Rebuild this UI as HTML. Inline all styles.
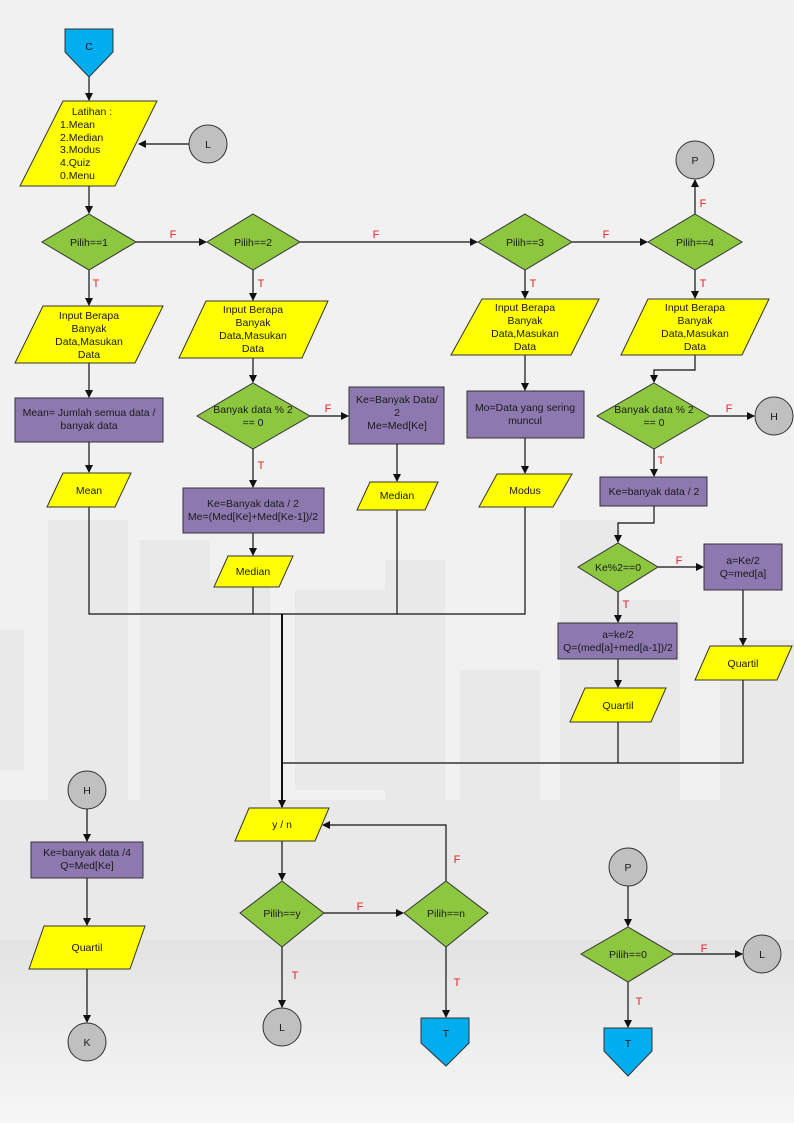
<!DOCTYPE html>
<html><head><meta charset="utf-8"><style>
html,body{margin:0;padding:0;width:794px;height:1123px;overflow:hidden;background:#f1f1f1}
svg{display:block}
text{font-family:"Liberation Sans",Arial,sans-serif;font-size:10.5px;fill:#1a1a1a;text-anchor:middle}
.l{fill:#e8202a;font-size:11px}
</style></head><body>
<svg width="794" height="1123" viewBox="0 0 794 1123" xmlns="http://www.w3.org/2000/svg">
<defs>
<marker id="a" markerWidth="8" markerHeight="8" refX="7" refY="4" orient="auto" markerUnits="userSpaceOnUse"><path d="M0,0 L8,4 L0,8z" fill="#111"/></marker>
<linearGradient id="bg" x1="0" y1="0" x2="0" y2="1"><stop offset="0" stop-color="#e3e3e3"/><stop offset="1" stop-color="#f6f6f6"/></linearGradient>
</defs>
<rect width="794" height="1123" fill="#f1f1f1"/>
<!-- faint buildings -->
<g fill="#e9e9e9">
<rect x="48" y="520" width="80" height="300"/>
<rect x="140" y="540" width="70" height="270"/>
<rect x="210" y="580" width="60" height="230"/>
<rect x="295" y="590" width="90" height="200"/>
<rect x="385" y="560" width="60" height="240"/>
<rect x="460" y="670" width="80" height="150"/>
<rect x="560" y="520" width="60" height="300"/>
<rect x="620" y="600" width="60" height="200"/>
<rect x="0" y="630" width="24" height="140"/>
<rect x="720" y="640" width="74" height="170"/>
<rect x="0" y="800" width="794" height="140"/>
</g>
<rect x="0" y="940" width="794" height="183" fill="url(#bg)"/>
<g stroke="#111" stroke-width="1.2" fill="none">
<!-- top -->
<line x1="89" y1="77" x2="89" y2="100" marker-end="url(#a)"/>
<line x1="189" y1="144" x2="139" y2="144" marker-end="url(#a)"/>
<line x1="89" y1="186" x2="89" y2="213" marker-end="url(#a)"/>
<line x1="136" y1="242" x2="206" y2="242" marker-end="url(#a)"/>
<line x1="300" y1="242" x2="477" y2="242" marker-end="url(#a)"/>
<line x1="572" y1="242" x2="647" y2="242" marker-end="url(#a)"/>
<line x1="695" y1="214" x2="695" y2="180" marker-end="url(#a)"/>
<line x1="89" y1="270" x2="89" y2="305" marker-end="url(#a)"/>
<line x1="253" y1="270" x2="253" y2="300" marker-end="url(#a)"/>
<line x1="525" y1="270" x2="525" y2="298" marker-end="url(#a)"/>
<line x1="695" y1="270" x2="695" y2="298" marker-end="url(#a)"/>
<!-- col1 -->
<line x1="89" y1="363" x2="89" y2="397" marker-end="url(#a)"/>
<line x1="89" y1="442" x2="89" y2="472" marker-end="url(#a)"/>
<!-- col2 -->
<line x1="253" y1="358" x2="253" y2="382" marker-end="url(#a)"/>
<line x1="310" y1="416" x2="348" y2="416" marker-end="url(#a)"/>
<line x1="253" y1="449" x2="253" y2="487" marker-end="url(#a)"/>
<line x1="253" y1="533" x2="253" y2="555" marker-end="url(#a)"/>
<line x1="397" y1="444" x2="397" y2="481" marker-end="url(#a)"/>
<!-- col3 -->
<line x1="525" y1="355" x2="525" y2="390" marker-end="url(#a)"/>
<line x1="525" y1="438" x2="525" y2="473" marker-end="url(#a)"/>
<!-- col4 -->
<polyline points="695,355 695,370 654,370 654,382" marker-end="url(#a)"/>
<line x1="710" y1="416" x2="754" y2="416" marker-end="url(#a)"/>
<line x1="654" y1="449" x2="654" y2="476" marker-end="url(#a)"/>
<polyline points="654,506 654,523 618,523 618,542" marker-end="url(#a)"/>
<line x1="658" y1="567" x2="703" y2="567" marker-end="url(#a)"/>
<line x1="618" y1="592" x2="618" y2="622" marker-end="url(#a)"/>
<line x1="618" y1="659" x2="618" y2="687" marker-end="url(#a)"/>
<line x1="743" y1="590" x2="743" y2="645" marker-end="url(#a)"/>
<!-- merges -->
<polyline points="89,507 89,614 525,614 525,507"/>
<line x1="253" y1="587" x2="253" y2="614"/>
<line x1="397" y1="510" x2="397" y2="614"/>
<polyline points="618,722 618,763 743,763 743,680"/>
<line x1="282" y1="763" x2="618" y2="763"/>
<line x1="282" y1="614" x2="282" y2="807" stroke-width="2" marker-end="url(#a)"/>
<!-- bottom middle -->
<line x1="282" y1="841" x2="282" y2="880" marker-end="url(#a)"/>
<line x1="324" y1="913" x2="403" y2="913" marker-end="url(#a)"/>
<polyline points="446,881 446,825 323,825" marker-end="url(#a)"/>
<line x1="282" y1="947" x2="282" y2="1007" marker-end="url(#a)"/>
<line x1="446" y1="947" x2="446" y2="1017" marker-end="url(#a)"/>
<!-- bottom left -->
<line x1="87" y1="809" x2="87" y2="841" marker-end="url(#a)"/>
<line x1="87" y1="878" x2="87" y2="925" marker-end="url(#a)"/>
<line x1="87" y1="969" x2="87" y2="1022" marker-end="url(#a)"/>
<!-- bottom right -->
<line x1="628" y1="886" x2="628" y2="926" marker-end="url(#a)"/>
<line x1="674" y1="954" x2="742" y2="954" marker-end="url(#a)"/>
<line x1="628" y1="982" x2="628" y2="1027" marker-end="url(#a)"/>
</g>
<g stroke="#333" stroke-width="1">
<!-- offpage C -->
<polygon points="65,29 113,29 113,52 89,77 65,52" fill="#00aeef"/>
<polygon points="421,1018 469,1018 469,1043 446,1066 421,1043" fill="#00aeef"/>
<polygon points="604,1028 652,1028 652,1051 628,1076 604,1051" fill="#00aeef"/>
<!-- circles -->
<circle cx="208" cy="144" r="19" fill="#c0c0c0"/>
<circle cx="695" cy="160" r="19" fill="#c0c0c0"/>
<circle cx="774" cy="416" r="19" fill="#c0c0c0"/>
<ellipse cx="87" cy="790" rx="19" ry="19" fill="#c0c0c0"/>
<ellipse cx="87" cy="1042" rx="19" ry="19" fill="#c0c0c0"/>
<ellipse cx="282" cy="1027" rx="19" ry="19" fill="#c0c0c0"/>
<ellipse cx="628" cy="867" rx="19" ry="19" fill="#c0c0c0"/>
<ellipse cx="762" cy="954" rx="19" ry="19" fill="#c0c0c0"/>
<!-- parallelograms -->
<g fill="#ffff00">
<polygon points="63,101 157,101 115,186 20,186"/>
<polygon points="43,306 163,306 135,363 15,363"/>
<polygon points="206,301 328,301 302,358 179,358"/>
<polygon points="482,299 599,299 571,355 451,355"/>
<polygon points="648,299 769,299 742,355 621,355"/>
<polygon points="63,473 131,473 115,507 47,507"/>
<polygon points="228,556 293,556 279,587 214,587"/>
<polygon points="370,482 438,482 425,510 357,510"/>
<polygon points="497,474 572,474 553,507 479,507"/>
<polygon points="585,688 666,688 651,722 570,722"/>
<polygon points="710,646 792,646 777,680 695,680"/>
<polygon points="249,808 329,808 315,841 235,841"/>
<polygon points="44,926 145,926 130,969 29,969"/>
</g>
<!-- rects -->
<g fill="#8e78b0">
<rect x="15" y="398" width="148" height="44"/>
<rect x="183" y="488" width="141" height="45"/>
<rect x="349" y="387" width="95" height="57"/>
<rect x="467" y="391" width="117" height="47"/>
<rect x="600" y="477" width="107" height="29"/>
<rect x="704" y="544" width="78" height="46"/>
<rect x="558" y="623" width="119" height="36"/>
<rect x="31" y="842" width="112" height="36"/>
</g>
<!-- diamonds -->
<g fill="#8dc63f">
<polygon points="89,214 136,242 89,270 42,242"/>
<polygon points="253,214 300,242 253,270 207,242"/>
<polygon points="525,214 572,242 525,270 478,242"/>
<polygon points="695,214 742,242 695,270 648,242"/>
<polygon points="253,383 310,416 253,449 197,416"/>
<polygon points="654,383 710,416 654,449 597,416"/>
<polygon points="618,543 658,567 618,592 578,567"/>
<polygon points="282,881 324,913 282,947 240,913"/>
<polygon points="446,881 488,913 446,947 404,913"/>
<polygon points="628,927 674,954 628,982 581,954"/>
</g>
</g>
<!-- texts -->
<text x="89" y="50">C</text>
<text x="446" y="1037">T</text>
<text x="628" y="1047">T</text>
<text x="208" y="148">L</text><text x="695" y="164">P</text><text x="774" y="420">H</text>
<text x="87" y="794">H</text><text x="87" y="1046">K</text><text x="282" y="1031">L</text>
<text x="628" y="871">P</text><text x="762" y="958">L</text>
<text x="92" y="115">Latihan :</text>
<g style="text-anchor:start"><text x="60" y="128" style="text-anchor:start">1.Mean</text><text x="60" y="141" style="text-anchor:start">2.Median</text><text x="60" y="153" style="text-anchor:start">3.Modus</text><text x="60" y="166" style="text-anchor:start">4.Quiz</text><text x="60" y="179" style="text-anchor:start">0.Menu</text></g>
<text x="89" y="246">Pilih==1</text><text x="253" y="246">Pilih==2</text><text x="525" y="246">Pilih==3</text><text x="695" y="246">Pilih==4</text>
<text x="89" y="319">Input Berapa</text><text x="89" y="332">Banyak</text><text x="89" y="345">Data,Masukan</text><text x="89" y="358">Data</text>
<text x="253" y="313">Input Berapa</text><text x="253" y="326">Banyak</text><text x="253" y="339">Data,Masukan</text><text x="253" y="352">Data</text>
<text x="525" y="311">Input Berapa</text><text x="525" y="324">Banyak</text><text x="525" y="337">Data,Masukan</text><text x="525" y="350">Data</text>
<text x="695" y="311">Input Berapa</text><text x="695" y="324">Banyak</text><text x="695" y="337">Data,Masukan</text><text x="695" y="350">Data</text>
<text x="89" y="416">Mean= Jumlah semua   data /</text><text x="89" y="429">banyak data</text>
<text x="253" y="413">Banyak data % 2</text><text x="253" y="426">== 0</text>
<text x="654" y="413">Banyak data % 2</text><text x="654" y="426">== 0</text>
<text x="397" y="403">Ke=Banyak Data/</text><text x="397" y="416">2</text><text x="397" y="429">Me=Med[Ke]</text>
<text x="525" y="411">Mo=Data yang sering</text><text x="525" y="424">muncul</text>
<text x="89" y="494">Mean</text><text x="397" y="499">Median</text><text x="525" y="494">Modus</text>
<text x="253" y="507">Ke=Banyak data / 2</text><text x="253" y="520">Me=(Med[Ke]+Med[Ke-1])/2</text>
<text x="253" y="575">Median</text>
<text x="654" y="495">Ke=banyak data / 2</text>
<text x="618" y="571">Ke%2==0</text>
<text x="743" y="564">a=Ke/2</text><text x="743" y="577">Q=med[a]</text>
<text x="618" y="638">a=ke/2</text><text x="618" y="651">Q=(med[a]+med[a-1])/2</text>
<text x="618" y="709">Quartil</text><text x="743" y="667">Quartil</text>
<text x="282" y="828">y / n</text>
<text x="87" y="856">Ke=banyak data /4</text><text x="87" y="869">Q=Med[Ke]</text>
<text x="87" y="951">Quartil</text>
<text x="282" y="917">Pilih==y</text><text x="446" y="917">Pilih==n</text><text x="628" y="958">Pilih==0</text>
<!-- labels -->
<text class="l" x="173" y="238">F</text><text class="l" x="376" y="238">F</text><text class="l" x="606" y="238">F</text>
<text class="l" x="703" y="207">F</text>
<text class="l" x="96" y="287">T</text><text class="l" x="261" y="287">T</text><text class="l" x="533" y="287">T</text><text class="l" x="703" y="287">T</text>
<text class="l" x="328" y="412">F</text><text class="l" x="261" y="469">T</text>
<text class="l" x="729" y="412">F</text><text class="l" x="661" y="464">T</text>
<text class="l" x="679" y="564">F</text><text class="l" x="626" y="608">T</text>
<text class="l" x="360" y="910">F</text><text class="l" x="457" y="863">F</text>
<text class="l" x="295" y="979">T</text><text class="l" x="457" y="986">T</text>
<text class="l" x="704" y="952">F</text><text class="l" x="639" y="1005">T</text>
</svg>
</body></html>
